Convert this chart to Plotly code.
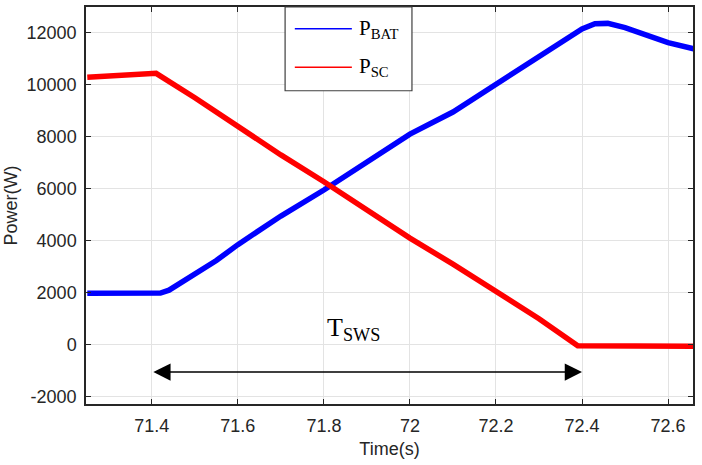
import plotly.graph_objects as go

# データ
t_bat = [71.25, 71.30, 71.35, 71.40, 71.42, 71.44, 71.47, 71.51, 71.55, 71.60,
         71.70, 71.80, 71.90, 72.00, 72.10, 72.20, 72.30, 72.40, 72.43, 72.46,
         72.50, 72.55, 72.60, 72.66]
p_bat = [1980, 1990, 1970, 1980, 1990, 2100, 2400, 2790, 3240, 3850,
         4950, 5950, 7050, 8100, 8950, 10000, 11100, 12150, 12350, 12360,
         12200, 11900, 11620, 11380]

t_sc = [71.25, 71.30, 71.35, 71.41, 71.50, 71.60, 71.70, 71.80, 71.90, 72.00,
        72.10, 72.20, 72.30, 72.39, 72.45, 72.55, 72.66]
p_sc = [10290, 10340, 10380, 10440, 9500, 8380, 7300, 6270, 5200, 4100,
        3100, 2050, 1000, -40, -50, -40, -60]

x_ticks = [71.4, 71.6, 71.8, 72.0, 72.2, 72.4, 72.6]
x_tick_labels = ["71.4", "71.6", "71.8", "72", "72.2", "72.4", "72.6"]
y_ticks = [-2000, 0, 2000, 4000, 6000, 8000, 10000, 12000]
y_tick_labels = ["-2000", "0", "2000", "4000", "6000", "8000", "10000", "12000"]

# T_SWS の区間
sws_start = 71.4
sws_end = 72.4
sws_level = -1050

BLUE = "#0000ff"
RED = "#ff0000"
AXIS = "#262626"
GRID = "#e3e3e3"
SERIF = "Liberation Serif, Times New Roman, serif"
SANS = "Liberation Sans, Arial, sans-serif"

fig = go.Figure()

fig.add_trace(
    go.Scatter(
        x=t_bat, y=p_bat, mode="lines", name="P<sub>BAT</sub>",
        line=dict(color=BLUE, width=5.5),
    )
)
fig.add_trace(
    go.Scatter(
        x=t_sc, y=p_sc, mode="lines", name="P<sub>SC</sub>",
        line=dict(color=RED, width=5.5),
    )
)

# 両矢印
fig.add_annotation(
    x=sws_end, y=sws_level, ax=sws_start, ay=sws_level,
    xref="x", yref="y", axref="x", ayref="y",
    text="", showarrow=True,
    arrowside="end+start", arrowhead=2, arrowsize=2.3,
    arrowwidth=1.5, arrowcolor="black",
)
fig.add_annotation(
    x=71.869, y=600, xref="x", yref="y",
    text="T<sub>SWS</sub>", showarrow=False,
    font=dict(family=SERIF, size=26, color="black"),
)

# 凡例（手描き）
fig.add_shape(
    type="rect", xref="paper", yref="paper",
    x0=0.328, x1=0.537, y0=0.789, y1=1.0,
    line=dict(color="#404040", width=1.2), fillcolor="white",
)
for yy, col, lab in [(0.945, BLUE, "P<sub>BAT</sub>"), (0.848, RED, "P<sub>SC</sub>")]:
    fig.add_shape(
        type="line", xref="paper", yref="paper",
        x0=0.344, x1=0.438, y0=yy, y1=yy,
        line=dict(color=col, width=1.5),
    )
    fig.add_annotation(
        x=0.446, y=yy, xref="paper", yref="paper",
        text=lab, showarrow=False, xanchor="left", yanchor="middle",
        font=dict(family=SERIF, size=21, color="black"),
    )

fig.update_layout(
    width=702, height=465,
    margin=dict(l=86, r=9, t=5, b=61),
    paper_bgcolor="white", plot_bgcolor="white",
    showlegend=False,
    font=dict(family=SANS, color=AXIS, size=18),
)

fig.update_xaxes(
    range=[71.247, 72.658],
    tickmode="array", tickvals=x_ticks, ticktext=x_tick_labels,
    ticks="inside", ticklen=5, tickcolor=AXIS,
    showline=True, linecolor=AXIS, linewidth=1.5, mirror="allticks",
    showgrid=True, gridcolor=GRID, gridwidth=1, zeroline=False,
    ticklabelstandoff=5,
    title=dict(text="Time(s)", standoff=7, font=dict(size=18)),
)
fig.update_yaxes(
    range=[-2280, 12990],
    tickmode="array", tickvals=y_ticks, ticktext=y_tick_labels,
    ticks="inside", ticklen=5, tickcolor=AXIS,
    showline=True, linecolor=AXIS, linewidth=1.5, mirror="allticks",
    showgrid=True, gridcolor=GRID, gridwidth=1, zeroline=False,
    ticklabelstandoff=4,
    title=dict(text="Power(W)", standoff=4, font=dict(size=18)),
)

fig.write_html(
    "out.html",
    config={"displayModeBar": False},
    post_script="document.body.style.margin='0';",
)
